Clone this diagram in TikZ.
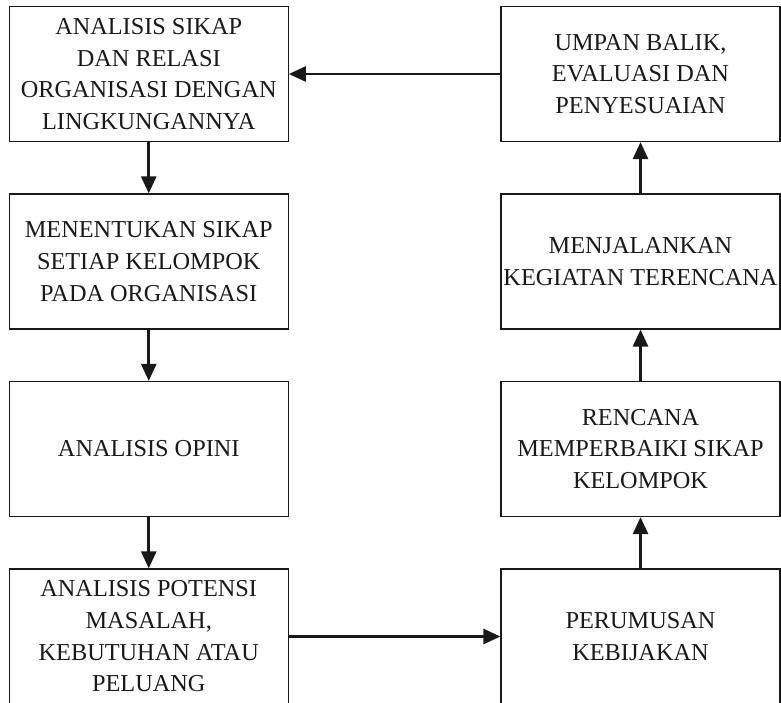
\documentclass[tikz,border=0pt]{standalone}
\usepackage{fontspec}
\setmainfont{Liberation Serif}
\usetikzlibrary{arrows.meta}

\begin{document}
\begin{tikzpicture}
[x=1pt,y=-1pt,color={black!90},every node/.style={shape=rectangle,draw,line width=1.2pt,
	inner sep=0pt,minimum width=279pt,minimum height=135pt,align=center,
	font=\fontsize{24.3}{31.7}\selectfont}]
\useasboundingbox (0,0) rectangle (781,702);

% left column, top to bottom
\node (a1) at (148.75,74) {ANALISIS SIKAP\\DAN RELASI\\ORGANISASI DENGAN\\LINGKUNGANNYA};
\node (a2) at (148.75,261.5) {MENENTUKAN SIKAP\\SETIAP KELOMPOK\\PADA ORGANISASI};
\node (a3) at (148.75,449) {ANALISIS OPINI};
\node (a4) at (148.75,636.5) {ANALISIS POTENSI\\MASALAH,\\KEBUTUHAN ATAU\\PELUANG};

% right column, top to bottom
\node (b1) at (640.5,74) {UMPAN BALIK,\\EVALUASI DAN\\PENYESUAIAN};
\node (b2) at (640.5,261.5) {MENJALANKAN\\KEGIATAN TERENCANA};
\node (b3) at (640.5,449) {RENCANA\\MEMPERBAIKI SIKAP\\KELOMPOK};
\node (b4) at (640.5,636.5) {PERUMUSAN\\KEBIJAKAN};

\path
\foreach \startNode/\endNode in {a1/a2,a2/a3,a3/a4,a4/b4,b4/b3,b3/b2,b2/b1,b1/a1}
{
	(\startNode) edge[-{Triangle[length=17pt,width=15pt]},line width=2.6pt] (\endNode)
};
\end{tikzpicture}
\end{document}
